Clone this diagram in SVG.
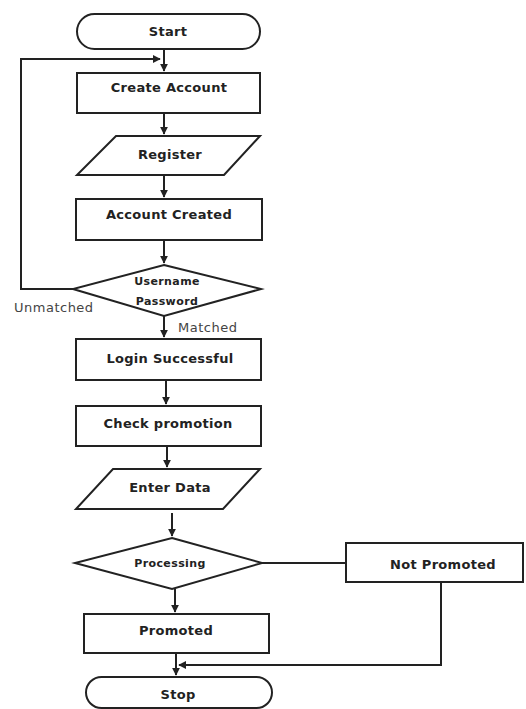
<svg xmlns="http://www.w3.org/2000/svg" width="526" height="709" viewBox="0 0 526 709">
<style>
.s{fill:#fff;stroke:#222;stroke-width:2}
.t{font-family:"DejaVu Sans",sans-serif;font-weight:bold;font-size:13px;letter-spacing:0.3px;fill:#222;text-anchor:middle;dominant-baseline:central}
.sm{font-size:11px;letter-spacing:0.4px}
.l{font-family:"DejaVu Sans",sans-serif;font-size:13px;letter-spacing:0.5px;fill:#444}
.c{fill:none;stroke:#222;stroke-width:2}
</style>
<defs>
<marker id="a" viewBox="0 0 10 10" refX="9" refY="5" markerWidth="4" markerHeight="4" orient="auto"><path d="M0,0L10,5L0,10z" fill="#222"/></marker>
</defs>
<rect width="526" height="709" fill="#fff"/>
<g id="connectors">
<path class="c" d="M164,49V71" marker-end="url(#a)"/>
<path class="c" d="M73,289H21V59H160" marker-end="url(#a)"/>
<path class="c" d="M164,113V134" marker-end="url(#a)"/>
<path class="c" d="M164,176V197" marker-end="url(#a)"/>
<path class="c" d="M164,240V263" marker-end="url(#a)"/>
<path class="c" d="M164,316V337" marker-end="url(#a)"/>
<path class="c" d="M166,380V404" marker-end="url(#a)"/>
<path class="c" d="M167,446V467" marker-end="url(#a)"/>
<path class="c" d="M172,513V536" marker-end="url(#a)"/>
<path class="c" d="M262,563H346"/>
<path class="c" d="M175,589V612" marker-end="url(#a)"/>
<path class="c" d="M176,653V675" marker-end="url(#a)"/>
<path class="c" d="M441,582V665H179" marker-end="url(#a)"/>
<text class="l" x="14" y="312">Unmatched</text>
<text class="l" x="178" y="332">Matched</text>
</g>
<g id="start"><rect class="s" x="77" y="14" width="183" height="35" rx="17.5"/><text class="t" x="168" y="31">Start</text></g>
<g id="create"><rect class="s" x="77" y="73" width="183" height="40"/><text class="t" x="169" y="87">Create Account</text></g>
<g id="register"><polygon class="s" points="116,136 260,136 224,175 77,175"/><text class="t" x="170" y="154">Register</text></g>
<g id="created"><rect class="s" x="76" y="199" width="186" height="41"/><text class="t" x="169" y="214">Account Created</text></g>
<g id="userpass"><polygon class="s" points="164,265 261,289 164,316 73,289"/><text class="t sm" x="167" y="281">Username</text><text class="t sm" x="167" y="301">Password</text></g>
<g id="login"><rect class="s" x="76" y="339" width="185" height="41"/><text class="t" x="170" y="358">Login Successful</text></g>
<g id="check"><rect class="s" x="76" y="406" width="185" height="40"/><text class="t" x="168" y="423">Check promotion</text></g>
<g id="enter"><polygon class="s" points="113,469 260,469 223,509 76,509"/><text class="t" x="170" y="487">Enter Data</text></g>
<g id="processing"><polygon class="s" points="172,538 262,563 172,589 75,563"/><text class="t sm" x="170" y="563">Processing</text></g>
<g id="notpromoted"><rect class="s" x="346" y="543" width="177" height="39"/><text class="t" x="443" y="564">Not Promoted</text></g>
<g id="promoted"><rect class="s" x="84" y="614" width="185" height="39"/><text class="t" x="176" y="630">Promoted</text></g>
<g id="stop"><rect class="s" x="86" y="677" width="186" height="31" rx="15.5"/><text class="t" x="178" y="694">Stop</text></g>
</svg>
